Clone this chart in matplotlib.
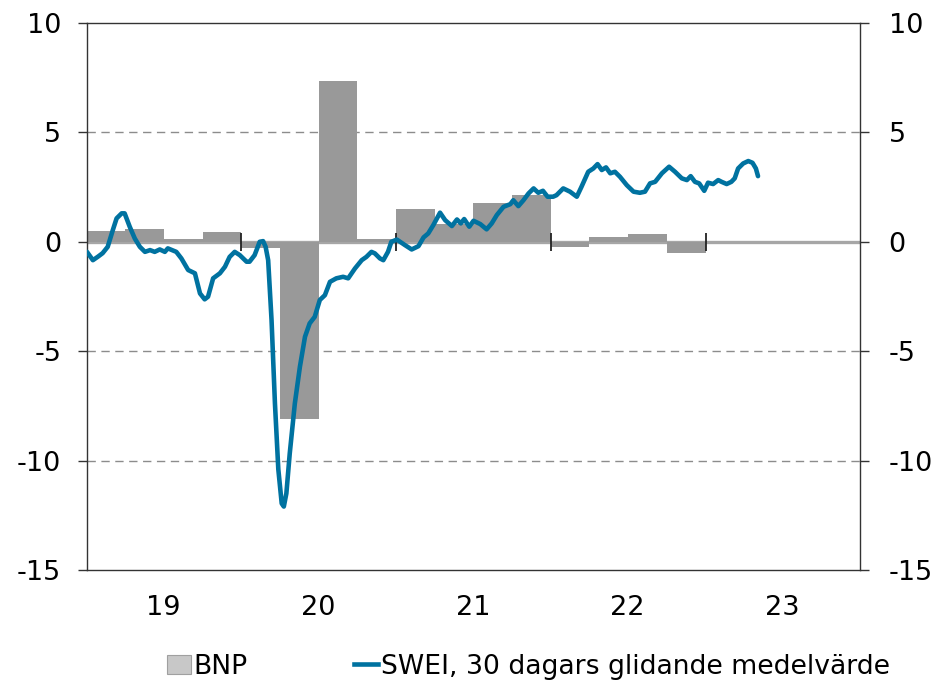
import numpy as np
import pandas as pd
import matplotlib
matplotlib.use("Agg")
import matplotlib.pyplot as plt
import matplotlib.dates as mdates
from matplotlib.patches import Patch
from matplotlib.lines import Line2D

plt.rcParams['font.family'] = ['DejaVu Sans']
plt.rcParams['axes.unicode_minus'] = False

# BNP, kvartalsvis förändring (%)
bnp_quarters = ["2019-01-01", "2019-04-01", "2019-07-01", "2019-10-01",
                "2020-01-01", "2020-04-01", "2020-07-01", "2020-10-01",
                "2021-01-01", "2021-04-01", "2021-07-01", "2021-10-01",
                "2022-01-01", "2022-04-01", "2022-07-01", "2022-10-01"]
bnp_values = [0.5, 0.6, 0.12, 0.47,
              -0.3, -8.1, 7.35, 0.15,
              1.5, 0.8, 1.78, 2.13,
              -0.23, 0.2, 0.34, -0.53]

# SWEI, 30 dagars glidande medelvärde
swei_dates = [
    "2019-01-01", "2019-01-15", "2019-01-27", "2019-02-07", "2019-02-19", "2019-03-03",
    "2019-03-12", "2019-03-24", "2019-03-31", "2019-04-12", "2019-04-24", "2019-05-06",
    "2019-05-18", "2019-05-30", "2019-06-10", "2019-06-22", "2019-07-04", "2019-07-11",
    "2019-07-31", "2019-08-12", "2019-08-28", "2019-09-13", "2019-09-25", "2019-10-06",
    "2019-10-14", "2019-10-26", "2019-11-11", "2019-11-23", "2019-12-04", "2019-12-16",
    "2019-12-28", "2020-01-13", "2020-01-20", "2020-02-01", "2020-02-13", "2020-02-21",
    "2020-02-27", "2020-03-04", "2020-03-12", "2020-03-20", "2020-03-28", "2020-04-05",
    "2020-04-10", "2020-04-16", "2020-04-24", "2020-05-06", "2020-05-18", "2020-05-30",
    "2020-06-10", "2020-06-22", "2020-07-04", "2020-07-16", "2020-07-28", "2020-08-12",
    "2020-08-28", "2020-09-09", "2020-09-25", "2020-10-11", "2020-10-22", "2020-11-03",
    "2020-11-11", "2020-11-23", "2020-12-01", "2020-12-12", "2020-12-20", "2021-01-02",
    "2021-01-21", "2021-02-06", "2021-02-22", "2021-03-06", "2021-03-17", "2021-03-29",
    "2021-04-14", "2021-04-26", "2021-05-12", "2021-05-24", "2021-06-02", "2021-06-10",
    "2021-06-22", "2021-07-02", "2021-07-18", "2021-08-02", "2021-08-14", "2021-08-26",
    "2021-09-11", "2021-09-27", "2021-10-04", "2021-10-16", "2021-10-28", "2021-11-09",
    "2021-11-21", "2021-12-02", "2021-12-13", "2021-12-24", "2022-01-06", "2022-01-14",
    "2022-01-30", "2022-02-15", "2022-03-03", "2022-03-14", "2022-03-30", "2022-04-11",
    "2022-04-21", "2022-05-01", "2022-05-11", "2022-05-21", "2022-06-01", "2022-06-13",
    "2022-06-29", "2022-07-15", "2022-07-30", "2022-08-11", "2022-08-23", "2022-09-04",
    "2022-09-20", "2022-10-07", "2022-10-21", "2022-11-06", "2022-11-18", "2022-11-27",
    "2022-12-07", "2022-12-17", "2022-12-29", "2023-01-07", "2023-01-19", "2023-01-31",
    "2023-02-08", "2023-02-20", "2023-03-03", "2023-03-11", "2023-03-19", "2023-03-31",
    "2023-04-12", "2023-04-22", "2023-04-30", "2023-05-05"]
swei_values = [
    -0.46, -0.84, -0.68, -0.52, -0.23, 0.53,
    1.07, 1.3, 1.3, 0.69, 0.15, -0.23,
    -0.46, -0.38, -0.46, -0.35, -0.46, -0.3,
    -0.46, -0.76, -1.29, -1.44, -2.36, -2.63,
    -2.51, -1.67, -1.44, -1.14, -0.69, -0.46,
    -0.61, -0.91, -0.91, -0.61, 0.0, 0.03,
    -0.23, -0.84, -3.58, -7.38, -10.4, -11.96,
    -12.1, -11.5, -9.67, -7.39, -5.71, -4.34,
    -3.73, -3.43, -2.66, -2.44, -1.83, -1.67,
    -1.6, -1.67, -1.22, -0.84, -0.69, -0.46,
    -0.53, -0.76, -0.84, -0.46, 0.0, 0.1,
    -0.15, -0.35, -0.2, 0.2, 0.38, 0.76,
    1.33, 0.99, 0.72, 1.02, 0.84, 1.04,
    0.69, 0.96, 0.81, 0.57, 0.84, 1.22,
    1.6, 1.72, 1.9, 1.63, 1.9, 2.21,
    2.44, 2.24, 2.33, 2.06, 2.06, 2.13,
    2.44, 2.29, 2.06, 2.51, 3.2, 3.35,
    3.55, 3.28, 3.4, 3.13, 3.2, 2.97,
    2.59, 2.29, 2.24, 2.29, 2.67, 2.74,
    3.13, 3.43, 3.2, 2.9, 2.82, 3.0,
    2.74, 2.67, 2.33, 2.7, 2.64, 2.82,
    2.74, 2.64, 2.74, 2.9, 3.35, 3.58,
    3.69, 3.61, 3.35, 3.0]

y_ticks = [10, 5, 0, -5, -10, -15]
year_marks = ["2020-01-01", "2021-01-01", "2022-01-01", "2023-01-01"]
bar_color = '#999999'
line_color = '#0072a0'
axis_color = '#333333'
fs = 19.5

q_start = pd.to_datetime(bnp_quarters)
q_width = (q_start + pd.DateOffset(months=3)) - q_start
dates = pd.to_datetime(swei_dates)
marks = pd.to_datetime(year_marks)

fig = plt.figure(figsize=(9.33, 6.88), dpi=100)
ax = fig.add_axes([0.0932, 0.1715, 0.8286, 0.7951])

# grid lines (not at 0 / edges)
for yv in y_ticks:
    if yv not in (0, max(y_ticks), min(y_ticks)):
        ax.axhline(yv, color='#8c8c8c', lw=1.0, ls=(0, (6, 4)), zorder=0.5)

# zero line under the bars, tick marks at year boundaries above them
ax.axhline(0, color='#a6a6a6', lw=2.4, zorder=0.8)
ax.bar(q_start, bnp_values, width=q_width.days, align='edge', color=bar_color,
       edgecolor='none', zorder=1)
ax.plot(marks, np.zeros(len(marks)), ls='none', marker='|', ms=13, mew=1.3,
        color='#222222', zorder=2.5, clip_on=False)

ax.plot(dates, swei_values, color=line_color, lw=3.3, solid_joinstyle='round',
        solid_capstyle='round', zorder=4)

ax.set_xlim(pd.Timestamp("2019-01-01"), pd.Timestamp("2024-01-01"))
ax.set_ylim(min(y_ticks), max(y_ticks))
ax.set_yticks(y_ticks)

ax.xaxis.set_major_locator(mdates.YearLocator())
ax.xaxis.set_major_formatter(plt.NullFormatter())
ax.xaxis.set_minor_locator(mdates.MonthLocator(bymonth=7))
ax.xaxis.set_minor_formatter(mdates.DateFormatter('%y'))
ax.tick_params(axis='x', which='both', length=0, pad=18, labelsize=fs)
ax.tick_params(axis='y', direction='out', length=6.5, width=1.0, color=axis_color,
               pad=12, labelsize=fs)

for s in ax.spines.values():
    s.set_color(axis_color)
    s.set_linewidth(1.0)

# right axis mirrors left
ax2 = ax.twinx()
ax2.set_ylim(ax.get_ylim())
ax2.set_yticks(y_ticks)
ax2.tick_params(axis='y', direction='out', length=6.5, width=1.0, color=axis_color,
                pad=14, labelsize=fs)
for s in ax2.spines.values():
    s.set_visible(False)

handles = [Patch(facecolor='#c8c8c8', edgecolor='#a0a0a0', lw=0.8),
           Line2D([], [], color=line_color, lw=3.3)]
fig.legend(handles, ['BNP', 'SWEI, 30 dagars glidande medelvärde'],
           loc='center', bbox_to_anchor=(0.566, 0.031), ncol=2, frameon=False,
           fontsize=19.2, handlelength=0.9, handletextpad=0.1, columnspacing=4.0,
           borderpad=0, handleheight=0.7)

fig.savefig('out.png', dpi=100)
